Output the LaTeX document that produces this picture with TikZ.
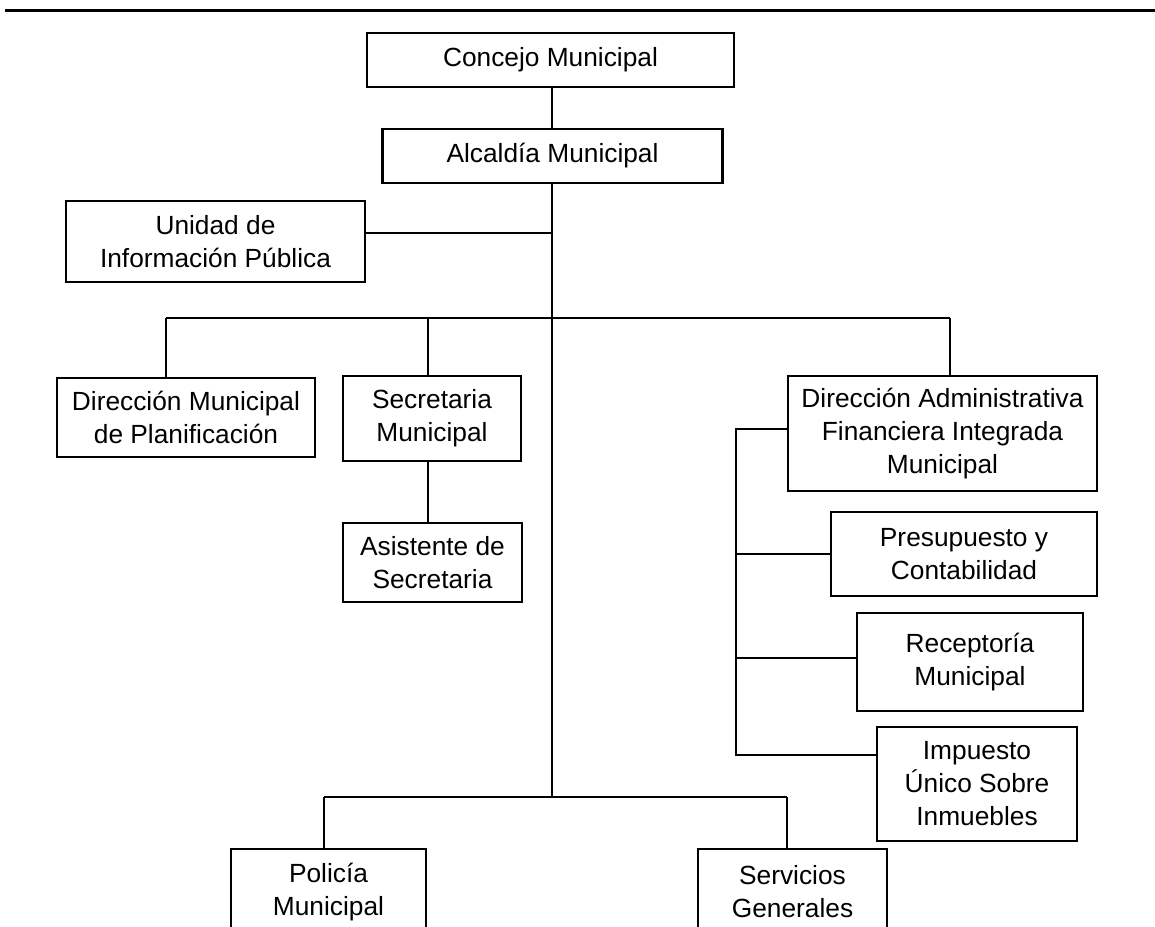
\documentclass[tikz,border=0pt]{standalone}
\usepackage{fontspec}
\setmainfont{Liberation Sans}
\begin{document}
\begin{tikzpicture}[x=1pt,y=-1pt,
  box/.style={draw,line width=2.4pt,align=center,inner sep=0pt,
    font=\fontsize{26.3pt}{33pt}\selectfont},
  conn/.style={line width=2pt}]
\useasboundingbox (0,0) rectangle (1155,926);
\draw[line width=3pt] (5,10) -- (1155,10);
% nodes
\node[box,minimum width=367pt,minimum height=54pt] (concejo) at (550.5,60) {Concejo Municipal};
\node[box,minimum width=340pt,minimum height=54pt] (alcaldia) at (552.5,156) {Alcaldía Municipal};
\node[box,minimum width=299pt,minimum height=81pt] (uip) at (215.5,241.5) {Unidad de\\Información Pública};
\node[box,minimum width=258pt,minimum height=79pt] (dmp) at (186,417.5) {Dirección Municipal\\de Planificación};
\node[box,minimum width=178pt,minimum height=85pt] (secm) at (432,418.5) {Secretaria\\Municipal};
\node[box,minimum width=179pt,minimum height=79pt] (asis) at (432.5,562.5) {Asistente de\\Secretaria};
\node[box,minimum width=309pt,minimum height=115pt] (dafim) at (942.5,433.5) {Dirección Administrativa\\Financiera Integrada\\Municipal};
\node[box,minimum width=266pt,minimum height=84pt] (presu) at (964,554) {Presupuesto y\\Contabilidad};
\node[box,minimum width=226pt,minimum height=98pt] (recep) at (970,662) {Receptoría\\Municipal};
\node[box,minimum width=200pt,minimum height=114pt] (impu) at (977,784) {Impuesto\\Único Sobre\\Inmuebles};
\node[box,minimum width=195pt,minimum height=86pt] (poli) at (328.5,892) {Policía\\Municipal};
\node[box,minimum width=189pt,minimum height=86pt] (serv) at (792.5,892) {Servicios\\Generales};
% junction coordinates
\coordinate (j1) at (552,233);
\coordinate (b1L) at (166,318);
\coordinate (b1S) at (428,318);
\coordinate (b1T) at (552,318);
\coordinate (b1R) at (950,318);
\coordinate (b2L) at (324,797);
\coordinate (b2T) at (552,797);
\coordinate (b2R) at (787,797);
\coordinate (kTop) at (736,429);
\coordinate (kP) at (736,554);
\coordinate (kR) at (736,658);
\coordinate (kI) at (736,755);
% connectors
\draw[conn] (concejo.south -| j1) -- (alcaldia.north -| j1);
\draw[conn] (alcaldia.south -| j1) -- (b2T);
\draw[conn] (uip.east |- j1) -- (j1);
\draw[conn] (b1L) -- (b1R);
\draw[conn] (b1L) -- (b1L |- dmp.north);
\draw[conn] (b1S) -- (b1S |- secm.north);
\draw[conn] (b1R) -- (b1R |- dafim.north);
\draw[conn] (secm.south -| b1S) -- (asis.north -| b1S);
\draw[conn] (dafim.west |- kTop) -- (kTop) -- (kI) -- (impu.west |- kI);
\draw[conn] (kP) -- (presu.west |- kP);
\draw[conn] (kR) -- (recep.west |- kR);
\draw[conn] (b2L) -- (b2R);
\draw[conn] (b2L) -- (b2L |- poli.north);
\draw[conn] (b2R) -- (b2R |- serv.north);
\end{tikzpicture}
\end{document}
